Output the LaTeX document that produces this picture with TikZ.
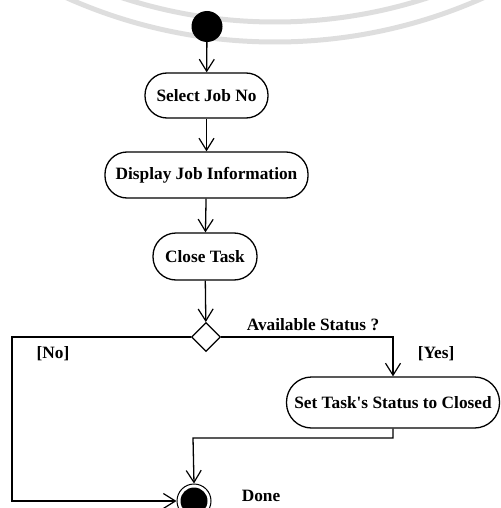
\documentclass[tikz,border=0pt]{standalone}
\usepackage{fontspec}
\setmainfont{Liberation Serif}
\usetikzlibrary{arrows.meta,shapes.geometric}
\begin{document}
\begin{tikzpicture}[x=1pt,y=-1pt,
  every node/.style={font=\fontsize{17.3}{20}\selectfont\bfseries},
  act/.style={draw, line width=1.3pt, rounded corners=22pt, minimum height=45pt, inner sep=0pt},
  flow/.style={line width=1.3pt, -{Straight Barb[length=12pt,width=15pt,line width=1.2pt]}},
  lbl/.style={inner sep=0pt}]
\useasboundingbox (0,0) rectangle (500,508);
\begin{scope}
  \clip (0,0) rectangle (500,508);
  \draw[black!13, line width=5pt] (275,-470) circle (512);
  \draw[black!13, line width=5pt] (275,-470) circle (492);
\end{scope}
% nodes
\node[circle, fill=black, minimum size=31pt, inner sep=0pt] (start) at (207,26.5) {};
\node[act, minimum width=123pt] (sel) at (206.5,95.5) {Select Job No};
\node[act, minimum width=203pt, minimum height=46pt] (disp) at (206.5,175) {Display Job Information};
\node[act, minimum width=104pt, minimum height=47pt, rounded corners=23pt] (close) at (205,256.5) {Close Task};
\node[diamond, draw, line width=1.3pt, minimum width=29pt, minimum height=29pt, inner sep=0pt] (dec) at (206,337) {};
\node[act, minimum width=213pt, minimum height=51pt, rounded corners=25pt] (set) at (393,402.5) {Set Task\textquotesingle s Status to Closed};
\node[circle, draw, line width=1pt, minimum size=34pt, inner sep=0pt] (final) at (194,501) {};
\fill (final.center) circle (13.5);
% labels
\node[lbl] (avail) at (313,325) {Available Status ?};
\node[lbl] (no) at (53,354) {[No]};
\node[lbl] (yes) at (436,354) {[Yes]};
\node[lbl] (done) at (261,496) {Done};
% connectors
\coordinate (nl) at (12,337);
\coordinate (nb) at (12,501);
\coordinate (ym) at (193,438);
\draw[flow] (start) -- (sel);
\draw[flow] (sel) -- (disp);
\draw[flow] (disp) -- (close);
\draw[flow] (close) -- (dec);
\draw[flow] (dec.east) -| (set.north);
\draw[flow] (dec.west) -- (nl) -- (nb) -- (final.west);
\draw[flow] (set.south) |- (ym) -- (final.north);
\end{tikzpicture}
\end{document}
